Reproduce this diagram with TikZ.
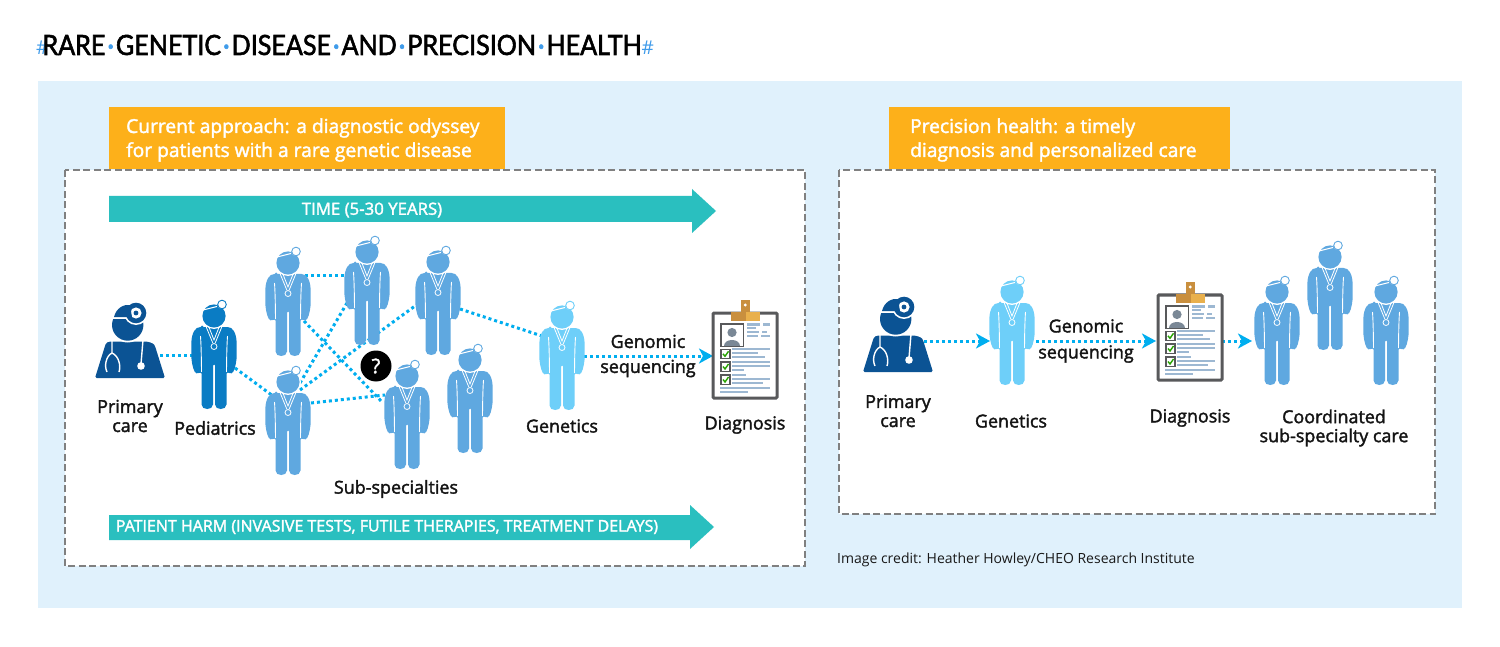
\documentclass[tikz,border=0pt]{standalone}
\usepackage{fontspec}
\usetikzlibrary{calc,arrows.meta}
\newfontfamily\semi[FakeBold=2]{Open Sans}
\newfontfamily\regu{Open Sans}
\newfontfamily\ttl[FakeStretch=0.9,FakeBold=2]{Lato}
\definecolor{panel}{HTML}{E0F1FC}
\definecolor{orangebox}{HTML}{FDB01A}
\definecolor{teal1}{HTML}{2ABFBF}
\definecolor{dots}{HTML}{00AEEF}
\definecolor{docmid}{HTML}{5FA8E0}
\definecolor{docped}{HTML}{0A7CC4}
\definecolor{docgen}{HTML}{6ECFF9}
\definecolor{docdark}{HTML}{0B5394}
\definecolor{bars}{HTML}{9DB8D2}
\definecolor{frameg}{HTML}{58595B}
\definecolor{hashb}{HTML}{3F9BEA}
\definecolor{clipl}{HTML}{C98F3E}
\definecolor{clipr}{HTML}{E9B04C}
\tikzset{
  lab/.style={font=\semi\fontsize{17.9}{19}\selectfont,text=black!92,align=center,inner sep=0pt},
  head1/.style={font=\semi\fontsize{19.2}{24}\selectfont,text=white,align=left,inner sep=0pt,anchor=west},
  bandtxt/.style={font=\semi\fontsize{16}{20}\selectfont,text=white,inner sep=0pt},
  dashbox/.style={draw=black!50,line width=2.6pt,dash pattern=on 7pt off 3.5pt,fill=white},
  dotline/.style={draw=dots,line width=3pt,dash pattern=on 3pt off 3pt},
  dotarrow/.style={dotline,-{Stealth[length=14pt,width=15pt,inset=4pt,color=dots]}},
  anchorpt/.style={inner sep=0pt,minimum size=0pt},
  doctor/.pic={
    \fill[#1,rounded corners=1.5pt] (-12,11) -- (12,11) .. controls (19,11) and (22,17) .. (22.7,27)
      -- (22.7,41) .. controls (22,49) and (20,57) .. (16,57.5) -- (12.5,56) -- (12.5,87)
      .. controls (12.5,94.5) and (1,94.5) .. (1,87) -- (1,48) -- (-1,48) -- (-1,87)
      .. controls (-1,94.5) and (-12.5,94.5) .. (-12.5,87) -- (-12.5,56) -- (-16,57.5)
      .. controls (-20,57) and (-22,49) .. (-22.7,41) -- (-22.7,27) .. controls (-22,17) and (-19,11) .. (-12,11) -- cycle;
    \draw[white,line width=.9pt] (13.5,20) .. controls (12.8,30) and (12.6,44) .. (12.5,56);
    \draw[white,line width=.9pt] (-13.5,20) .. controls (-12.8,30) and (-12.6,44) .. (-12.5,56);
    \fill[white] (0,0) circle (13);
    \fill[#1] (0,0) circle (11.6);
    \draw[white,line width=.8pt] (-9,8) -- (-1.2,27) (9,8) -- (1.2,27) (-5.5,10) -- (0,24) -- (5.5,10);
    \draw[white,line width=.8pt] (0,30.5) circle (3);
    \draw[white,line width=1pt] (-11,-6) -- (3,-9.5);
    \fill[white] (8,-11.5) circle (4.6);
    \draw[#1,line width=.9pt] (8,-11.5) circle (4.3);
  },
  primary/.pic={
    \fill[docdark,rounded corners=1.5pt] (-35,0) -- (35,0) -- (25,-32) .. controls (23,-35) and (18,-36.5) .. (13,-36.5)
       -- (-18,-36.5) .. controls (-22,-36.5) and (-24,-35) .. (-25,-32) -- cycle;
    \fill[white] (-2.3,-53) circle (17.5);
    \fill[docdark] (-2.3,-53) circle (15.7);
    \draw[white,line width=1.3pt] (-18,-60) -- (6,-60);
    \fill[white] (6,-65) circle (12);
    \fill[docdark] (6,-65) circle (10.3);
    \fill[white] (6,-65) circle (5.6);
    \fill[docdark] (6,-65) circle (2.4);
    \fill[docdark] (-16,-60.8) .. controls (-14,-70) and (-6,-74) .. (0,-73) -- (2,-60.8) -- cycle;
    \draw[white,line width=1.4pt] (-18,-37) -- (-18,-25) .. controls (-24,-22) and (-26,-12) .. (-23,-6)
       (-18,-25) .. controls (-11,-22) and (-9,-12) .. (-11,-6);
    \draw[white,line width=1.4pt] (13,-38) -- (11,-14);
    \fill[white] (11,-12) circle (3.8);
  },
  clipboard/.pic={
    \draw[frameg,line width=3pt,fill=white,rounded corners=1pt] (0,0) rectangle (64,85);
    \fill[clipl] (17.7,-1) rectangle (33,7.7);
    \fill[clipr] (33,-1) rectangle (47,7.7);
    \fill[clipl] (27.7,-13) rectangle (37,-1);
    \fill[white] (32.3,-8) circle (1.6);
    \draw[frameg,line width=1.1pt,fill=white] (8,11) rectangle (30.3,33.7);
    \fill[bars!50!frameg] (19,19.5) circle (4.6);
    \fill[bars!50!frameg] (11,33) .. controls (11,25) and (27,25) .. (27,33) -- cycle;
    \foreach \yy/\aa/\bb in {11.5/34/47,11.5/50/57,15/34/43,19/34/46,19/49/54,23/34/45,23/48/57,
      36/19/57,40/19/45,44/19/52,49/19/57,53/19/57,57/19/31,62/19/33,66/19/57,70/19/50,75/7/57,79/7/35}
      \fill[bars] (\aa,\yy-1.1) rectangle (\bb,\yy+1.1);
    \foreach \yy in {36.3,49,62}{
      \draw[frameg,line width=1.1pt,fill=white] (8,\yy) rectangle (17,\yy+9.3);
      \draw[green!55!black!80!lime,line width=1.4pt] (10,\yy+4.5) -- (12,\yy+7) -- (15.5,\yy+2);
    }
  },
  bigarrow/.style={fill=teal1}
}
\begin{document}
\begin{tikzpicture}[x=1pt,y=-1pt]
\useasboundingbox (0,0) rectangle (1500,647);
\fill[white] (0,0) rectangle (1500,647);
\fill[panel] (38,81) rectangle (1462,608);
\node[inner sep=0pt,anchor=west,font=\ttl\fontsize{27.9}{30}\selectfont] (title) at (36,45)
 {\textcolor{hashb}{\regu\fontsize{19}{19}\selectfont\#}\kern-6pt RARE\textcolor{hashb}{\kern2pt·\kern2pt}GENETIC\textcolor{hashb}{\kern2pt·\kern2pt}DISEASE\textcolor{hashb}{\kern2pt·\kern2pt}AND\textcolor{hashb}{\kern2pt·\kern2pt}PRECISION\textcolor{hashb}{\kern2pt·\kern2pt}HEALTH\textcolor{hashb}{\regu\fontsize{19}{19}\selectfont\#}};
% dashed boxes and orange headers
\path[dashbox] (65,170) rectangle (805,566);
\path[dashbox] (839,170) rectangle (1435,514);
\fill[orangebox] (109,107) rectangle (505,169);
\fill[orangebox] (889,107) rectangle (1230,169);
\node[head1] (h1) at (126,140) {Current approach: a diagnostic odyssey\\for patients with a rare genetic disease};
\node[head1] (h2) at (910,140) {Precision health: a timely\\diagnosis and personalized care};
% big arrows
\fill[bigarrow] (109,196) -- (692,196) -- (692,189) -- (716,211) -- (692,233) -- (692,222) -- (109,222) -- cycle;
\fill[bigarrow] (109,515) -- (690,515) -- (690,505) -- (714,527) -- (690,549) -- (690,540) -- (109,540) -- cycle;
\node[bandtxt,font=\semi\fontsize{16.8}{20}\selectfont] (t1) at (372,210) {TIME (5-30 YEARS)};
\node[bandtxt] (t2) at (387,527) {PATIENT HARM (INVASIVE TESTS, FUTILE THERAPIES, TREATMENT DELAYS)};
% anchors of the figures
\node[anchorpt] (pc) at (130,378) {};
\node[anchorpt] (ped) at (214,316) {};
\node[anchorpt] (d1) at (288,263) {};
\node[anchorpt] (d2) at (367,252) {};
\node[anchorpt] (d3) at (288,382) {};
\node[anchorpt] (d4) at (438,262) {};
\node[anchorpt] (d5) at (407,376) {};
\node[anchorpt] (d6) at (470,360) {};
\node[anchorpt] (gen) at (562,317) {};
\node[anchorpt] (dx) at (713,313) {};
\node[anchorpt] (pc2) at (898,372) {};
\node[anchorpt] (gen2) at (1012,292) {};
\node[anchorpt] (dx2) at (1158,295) {};
\node[anchorpt] (s1) at (1277,292) {};
\node[anchorpt] (s2) at (1330,257) {};
\node[anchorpt] (s3) at (1386,292) {};
% connectors
\draw[dotline] ($(pc)+(30,-23)$) -- ($(ped)+(-22,39)$);
\draw[dotline] ($(ped)+(21,52)$) -- ($(d3)+(-15,14)$);
\draw[dotline] ($(d1)+(17,13)$) -- ($(d2)+(-22,24)$);
\draw[dotline] ($(d1)+(16,58)$) -- ($(d5)+(-24,27)$);
\draw[dotline] ($(d3)+(12,1)$) -- ($(d2)+(-20,51)$);
\draw[dotline] ($(d3)+(12,8)$) -- ($(d4)+(-23,44)$);
\draw[dotline] ($(d3)+(23,21)$) -- ($(d5)+(-22,19)$);
\draw[dotline] ($(d4)+(22,47)$) -- ($(gen)+(-20,19)$);
\draw[dotarrow] ($(gen)+(22,39)$) -- (dx |- 0,356);
\draw[dotarrow] ($(pc2)+(26,-31)$) -- ($(gen2)+(-22,49)$);
\draw[dotarrow] ($(gen2)+(18,49)$) -- ($(dx2)+(-2,46)$);
\draw[dotarrow] ($(dx2)+(64,46)$) -- ($(s1)+(-25,49)$);
% figures
\pic at (pc) {primary};
\pic at (ped) {doctor={docped}};
\pic at (d1) {doctor={docmid}};
\pic at (d2) {doctor={docmid}};
\pic at (d3) {doctor={docmid}};
\pic at (d4) {doctor={docmid}};
\pic at (d5) {doctor={docmid}};
\pic at (d6) {doctor={docmid}};
\pic at (gen) {doctor={docgen}};
\pic at (dx) {clipboard};
\pic at (pc2) {primary};
\pic at (gen2) {doctor={docgen}};
\pic at (dx2) {clipboard};
\pic at (s1) {doctor={docmid}};
\pic at (s2) {doctor={docmid}};
\pic at (s3) {doctor={docmid}};
\node[circle,fill=black,minimum size=31pt,inner sep=0pt,text=white,font=\semi\fontsize{20}{20}\selectfont] (q) at (376,366) {?};
% labels
\node[lab] (lpc) at (130,416) {Primary\\care};
\node[lab] (lped) at (215,428) {Pediatrics};
\node[lab] (lsub) at (396,489) {Sub-specialties};
\node[lab] (lgen) at (562,426) {Genetics};
\node[lab] (lgs) at (648,356) {Genomic\\[6pt]sequencing};
\node[lab] (ldx) at (745,425) {Diagnosis};
\node[lab] (lpc2) at (898,411) {Primary\\care};
\node[lab] (lgen2) at (1011,421) {Genetics};
\node[lab] (lgs2) at (1086,341) {Genomic\\[7pt]sequencing};
\node[lab] (ldx2) at (1190,418) {Diagnosis};
\node[lab] (lco) at (1334,428) {Coordinated\\sub-specialty care};
\node[inner sep=0pt,anchor=west,font=\regu\fontsize{14}{16}\selectfont,text=black!90] (cred) at (837,560) {Image credit: Heather Howley/CHEO Research Institute};
\end{tikzpicture}
\end{document}
